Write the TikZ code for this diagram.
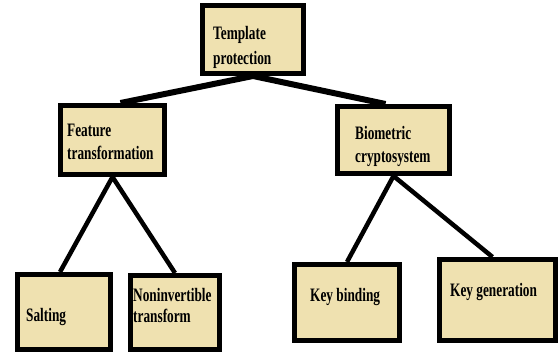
\documentclass[tikz,border=0pt]{standalone}
\usepackage{fontspec}
\newfontfamily\labfont[FakeStretch=0.7]{Liberation Serif}
\definecolor{boxfill}{RGB}{239,225,176}
\begin{document}
\begin{tikzpicture}[x=1pt,y=-1pt,
  box/.style={draw=black, fill=boxfill, line width=5pt, rectangle, inner sep=0pt},
  lab/.style={anchor=base west, inner sep=0pt, font=\labfont\bfseries\fontsize{19}{24}\selectfont},
  conn/.style={draw=black, line width=6pt, line cap=butt, line join=miter},
  conn2/.style={draw=black, line width=4.5pt, line cap=butt}]
\useasboundingbox (0,0) rectangle (558,352);
% boxes
\node[box, minimum width=101pt, minimum height=68pt] (TP) at (253,39.5) {};
\node[box, minimum width=104pt, minimum height=69pt] (FT) at (112.5,140) {};
\node[box, minimum width=112pt, minimum height=67pt] (BC) at (393.5,140) {};
\node[box, minimum width=93pt, minimum height=75pt] (SA) at (64,312) {};
\node[box, minimum width=89pt, minimum height=74pt] (NI) at (175,312.5) {};
\node[box, minimum width=105pt, minimum height=76pt] (KB) at (347,302.5) {};
\node[box, minimum width=116pt, minimum height=81pt] (KG) at (497.5,300) {};
% connectors
\draw[conn] ([xshift=8pt]FT.north) -- (TP.south) -- ([xshift=-8pt]BC.north);
\draw[conn2] ([xshift=-4pt]SA.north) -- (FT.south) -- (NI.north);
\draw[conn2] (KB.north) -- (BC.south) -- ([xshift=-5pt]KG.north);
% labels
\node[lab] (tp1) at (213,40) {Template};
\node[lab] (tp2) at (213,65) {protection};
\node[lab] (ft1) at (67,137) {Feature};
\node[lab] (ft2) at (67,160) {transformation};
\node[lab] (bc1) at (355,140) {Biometric};
\node[lab] (bc2) at (355,163) {cryptosystem};
\node[lab] (sa1) at (26,322) {Salting};
\node[lab] (ni1) at (133,302) {Noninvertible};
\node[lab] (ni2) at (133,323) {transform};
\node[lab] (kb1) at (310,302) {Key binding};
\node[lab] (kg1) at (450,297) {Key generation};
\end{tikzpicture}
\end{document}
